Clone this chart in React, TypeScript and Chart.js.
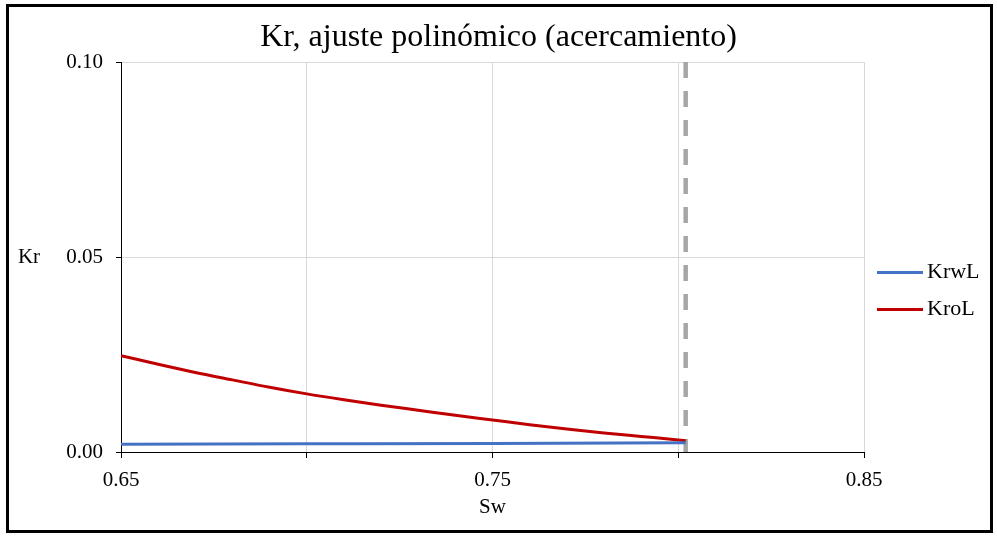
import React, { useEffect, useRef } from "react";
import { Chart, registerables } from "chart.js";

Chart.register(...registerables);

const TITLE = "Kr, ajuste polinómico (acercamiento)";
const X_TITLE = "Sw";
const Y_TITLE = "Kr";
const SERIES_NAMES = ["KrwL", "KroL"];
const SERIES_COLORS = ["#4472C4", "#C00000"];

const krwSw = [0.65, 0.70, 0.75, 0.802];
const krwValues = [0.0020, 0.0021, 0.0022, 0.0024];

const kroSw = [0.65, 0.66, 0.67, 0.68, 0.69, 0.70, 0.71, 0.72, 0.73, 0.74, 0.75, 0.76, 0.77, 0.78, 0.79, 0.80, 0.802];
const kroValues = [0.0247, 0.0225, 0.0204, 0.0185, 0.0166, 0.0149, 0.0134, 0.0120, 0.0107, 0.0094, 0.0082, 0.0070, 0.0059, 0.0049, 0.0040, 0.0031, 0.0029];

const swLimit = 0.802;
const limitYRange = [0.10, 0.0];

const xMin = 0.65;
const xMax = 0.85;
const xStep = 0.05;
const yMin = 0;
const yMax = 0.1;
const yStep = 0.05;

const FONT = "'Liberation Serif', 'Times New Roman', serif";

const overlayPlugin = {
  id: "overlay",
  afterDraw(chart: any) {
    const ctx = chart.ctx;
    const area = chart.chartArea;
    ctx.save();
    // frame
    ctx.strokeStyle = "#000";
    ctx.lineWidth = 3;
    ctx.strokeRect(7.5, 5.5, 984, 526);
    // y title, horizontal
    ctx.fillStyle = "#000";
    ctx.font = `21px ${FONT}`;
    ctx.textAlign = "center";
    ctx.textBaseline = "middle";
    ctx.fillText(Y_TITLE, 29, (area.top + area.bottom) / 2);
    // legend
    const lx = area.right + 13;
    const rows = [272.5, 309.5];
    ctx.font = `22px ${FONT}`;
    SERIES_NAMES.forEach((name, i) => {
      ctx.strokeStyle = SERIES_COLORS[i];
      ctx.lineWidth = 3;
      ctx.beginPath();
      ctx.moveTo(lx, rows[i]);
      ctx.lineTo(lx + 46, rows[i]);
      ctx.stroke();
      ctx.fillStyle = "#000";
      ctx.textAlign = "left";
      ctx.fillText(name, lx + 50, rows[i]);
    });
    ctx.restore();
  },
};

export default function App() {
  const canvasRef = useRef<HTMLCanvasElement | null>(null);

  useEffect(() => {
    const canvas = canvasRef.current;
    if (!canvas) return;
    const chart = new Chart(canvas, {
      type: "line",
      data: {
        datasets: [
          {
            label: SERIES_NAMES[0],
            data: krwSw.map((x, i) => ({ x, y: krwValues[i] })),
            borderColor: SERIES_COLORS[0],
            backgroundColor: SERIES_COLORS[0],
            borderWidth: 3,
            pointRadius: 0,
            cubicInterpolationMode: "monotone",
          },
          {
            label: SERIES_NAMES[1],
            data: kroSw.map((x, i) => ({ x, y: kroValues[i] })),
            borderColor: SERIES_COLORS[1],
            backgroundColor: SERIES_COLORS[1],
            borderWidth: 3,
            pointRadius: 0,
            cubicInterpolationMode: "monotone",
          },
          {
            label: "Sw límite",
            data: limitYRange.map((y) => ({ x: swLimit, y })),
            borderColor: "#A6A6A6",
            borderWidth: 4.5,
            borderDash: [16, 13],
            borderCapStyle: "butt",
            pointRadius: 0,
          },
        ],
      },
      options: {
        animation: false,
        responsive: false,
        devicePixelRatio: 1,
        layout: { padding: 0 },
        plugins: {
          legend: { display: false },
          tooltip: { enabled: false },
          title: {
            display: true,
            text: TITLE,
            color: "#000",
            font: { family: FONT, size: 32, weight: "normal", lineHeight: 1.2 },
            padding: { top: 18.8, bottom: 4.8 },
          },
        },
        scales: {
          x: {
            type: "linear",
            min: xMin,
            max: xMax,
            ticks: {
              stepSize: xStep,
              color: "#000",
              font: { family: FONT, size: 21 },
              padding: 10,
              maxRotation: 0,
              callback: (value: any, index: number) => (index % 2 === 0 ? Number(value).toFixed(2) : ""),
            },
            grid: { color: "#D9D9D9", lineWidth: 1, tickColor: "#000", tickLength: 6, drawTicks: true },
            border: { display: true, color: "#000", width: 1 },
            title: {
              display: true,
              text: X_TITLE,
              color: "#000",
              font: { family: FONT, size: 21, lineHeight: 1.2 },
              padding: { top: 4, bottom: 19 },
            },
            afterFit: (scale: any) => {
              scale.height = 87;
            },
          },
          y: {
            type: "linear",
            min: yMin,
            max: yMax,
            ticks: {
              stepSize: yStep,
              color: "#000",
              font: { family: FONT, size: 21 },
              padding: 13,
              callback: (value: any) => Number(value).toFixed(2),
            },
            grid: { color: "#D9D9D9", lineWidth: 1, tickColor: "#000", tickLength: 5, drawTicks: true },
            border: { display: true, color: "#000", width: 1 },
            afterFit: (scale: any) => {
              scale.width = 121;
            },
          },
          legendSpace: {
            type: "linear",
            position: "right",
            display: true,
            grid: { display: false, drawTicks: false },
            border: { display: false },
            ticks: { display: false },
            afterFit: (scale: any) => {
              scale.width = 133;
            },
          },
        },
      },
      plugins: [overlayPlugin],
    } as any);
    return () => chart.destroy();
  }, []);

  return (
    <div style={{ position: "fixed", left: 0, top: 0, width: 997, height: 539, background: "#fff" }}>
      <canvas ref={canvasRef} width={997} height={539} style={{ display: "block" }} />
    </div>
  );
}
